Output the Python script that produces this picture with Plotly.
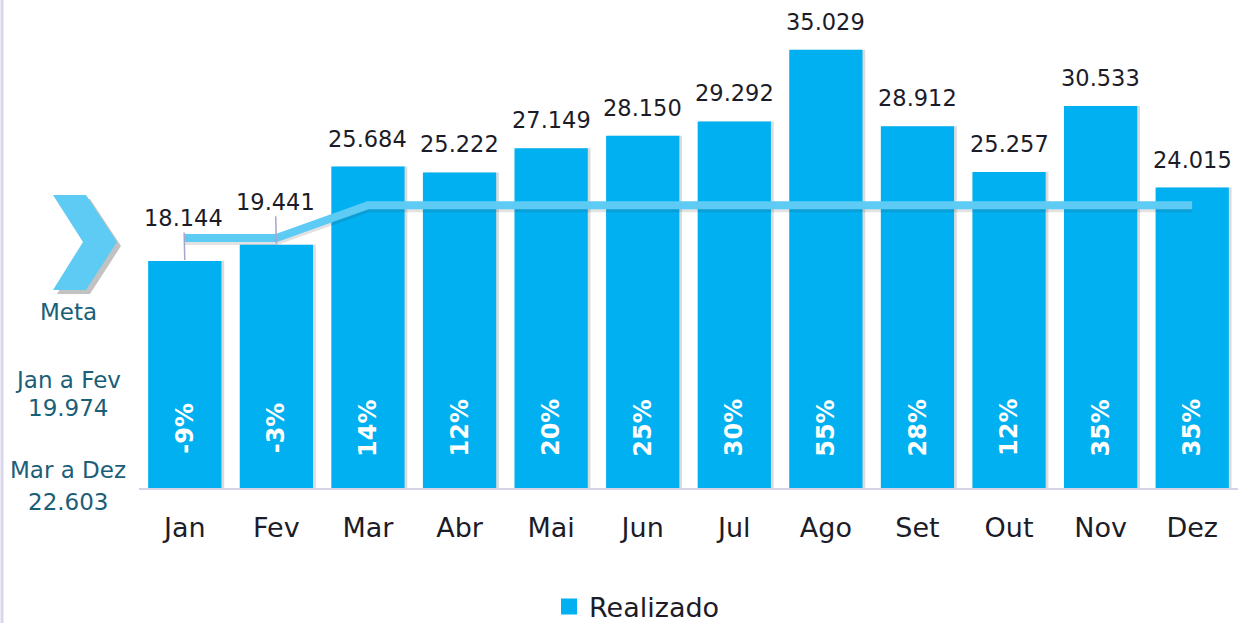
import plotly.graph_objects as go

meses = ['Jan', 'Fev', 'Mar', 'Abr', 'Mai', 'Jun', 'Jul', 'Ago', 'Set', 'Out', 'Nov', 'Dez']
realizado = [18.144, 19.441, 25.684, 25.222, 27.149, 28.150, 29.292, 35.029, 28.912, 25.257, 30.533, 24.015]
meta = [19.974, 19.974, 22.603, 22.603, 22.603, 22.603, 22.603, 22.603, 22.603, 22.603, 22.603, 22.603]
variacao = ['-9%', '-3%', '14%', '12%', '20%', '25%', '30%', '55%', '28%', '12%', '35%', '35%']
rotulos = ['18.144', '19.441', '25.684', '25.222', '27.149', '28.150', '29.292', '35.029', '28.912', '25.257', '30.533', '24.015']

COR_BARRA = '#00B0F0'
COR_META = '#5DCBF3'
COR_TEXTO = '#1C1C28'
COR_LADO = '#1B5E78'
FONTE = 'DejaVu Sans'

# area do grafico em pixels (para converter as formas da esquerda)
X0, X1, YB = 139, 1238, 488
def px(x):
    return (x - X0) / (X1 - X0)
def py(y):
    return (YB - y) / YB

fig = go.Figure()

# sombra das barras
fig.add_trace(go.Bar(x=meses, y=realizado, width=0.8, offset=-0.37,
                     marker=dict(color='rgba(0,0,0,0.14)', line_width=0),
                     showlegend=False, hoverinfo='skip'))
fig.add_trace(go.Bar(x=meses, y=realizado, name='Realizado', width=0.8, offset=-0.4,
                     marker=dict(color=COR_BARRA, line_width=0), showlegend=False))
# item da legenda
fig.add_trace(go.Scatter(x=[None], y=[None], mode='markers', name='Realizado',
                         marker=dict(symbol='square', size=20, color=COR_BARRA)))

# linha da meta (sombra + linha)
fig.add_trace(go.Scatter(x=meses, y=[m - 0.2 for m in meta], mode='lines',
                         line=dict(color='rgba(60,60,60,0.15)', width=9),
                         showlegend=False, hoverinfo='skip'))
fig.add_trace(go.Scatter(x=meses, y=meta, mode='lines', name='Meta',
                         line=dict(color=COR_META, width=8), showlegend=False))

# rotulos de valor
for i, (m, v, t) in enumerate(zip(meses, realizado, rotulos)):
    if i < 2:
        fig.add_annotation(x=m, y=v, text=t, showarrow=True, arrowhead=0,
                           arrowwidth=1.5, arrowcolor='#A8A4CC', ax=-1, ay=-43,
                           standoff=1,
                           font=dict(family=FONTE, size=22.5, color=COR_TEXTO))
    else:
        fig.add_annotation(x=m, y=v, text=t, showarrow=False, yanchor='bottom',
                           yshift=13, font=dict(family=FONTE, size=22.5, color=COR_TEXTO))

# variacao dentro das barras
for m, p in zip(meses, variacao):
    fig.add_annotation(x=m, y=4.8, text='<b>' + p + '</b>', showarrow=False,
                       textangle=-90, font=dict(family=FONTE, size=24, color='white'))

# textos da meta a esquerda
lado = [('Meta', 312), ('Jan a Fev', 380), ('19.974', 408), ('Mar a Dez', 470), ('22.603', 502)]
for t, y in lado:
    fig.add_annotation(xref='paper', yref='paper', x=px(68), y=py(y), text=t,
                       showarrow=False, xanchor='center', yanchor='middle',
                       font=dict(family=FONTE, size=23, color=COR_LADO))

# seta (chevron) com sombra
def chevron(dx, dy):
    pts = [(53, 195), (86, 195), (117, 242), (86, 290), (53, 290), (83, 242)]
    return 'M ' + ' L '.join('%f,%f' % (px(a + dx), py(b + dy)) for a, b in pts) + ' Z'

fig.add_shape(type='path', xref='paper', yref='paper', path=chevron(4, 4),
              fillcolor='rgba(80,80,80,0.35)', line_width=0, layer='below')
fig.add_shape(type='path', xref='paper', yref='paper', path=chevron(0, 0),
              fillcolor=COR_META, line_width=0)

# borda esquerda
fig.add_shape(type='line', xref='paper', yref='paper', x0=px(2), x1=px(2), y0=py(0), y1=py(623),
              line=dict(color='#D9D5EA', width=3))

fig.update_layout(
    width=1238, height=623,
    margin=dict(l=X0, r=0, t=0, b=623 - YB, autoexpand=False),
    plot_bgcolor='white', paper_bgcolor='white',
    barmode='overlay',
    font=dict(family=FONTE, color=COR_TEXTO),
    legend=dict(orientation='h', x=px(637), xanchor='center', y=py(607), yanchor='middle',
                itemsizing='trace',
                font=dict(family=FONTE, size=27, color=COR_TEXTO)),
)
fig.update_xaxes(range=[-0.5, 11.5], showgrid=False, showline=True, linecolor='#D4D2E4', linewidth=2,
                 tickfont=dict(family=FONTE, size=27, color=COR_TEXTO), ticklabelstandoff=15)
fig.update_yaxes(range=[0, 39], visible=False, showgrid=False)

# sem margem na pagina, para o grafico ocupar a janela toda
fig.write_html('out.html', config={'displayModeBar': False},
               post_script="document.body.style.margin='0';document.body.style.overflow='hidden';")
